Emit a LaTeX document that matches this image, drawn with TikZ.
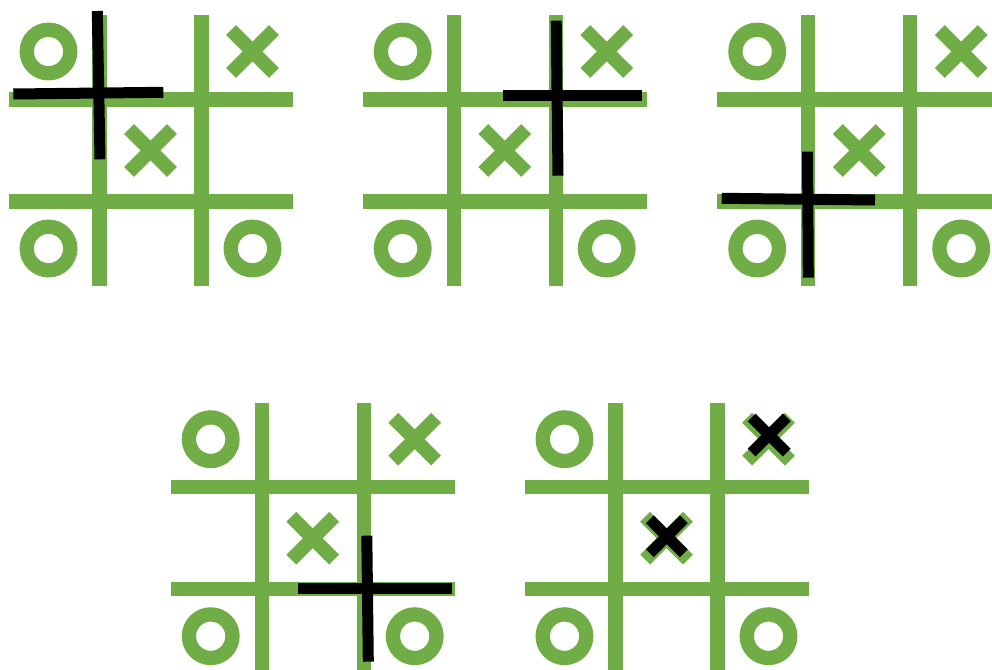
\documentclass[tikz,border=0pt]{standalone}
\definecolor{tgreen}{HTML}{70AD47}
\tikzset{
  gridline/.style={draw=tgreen, line width=14.3pt},
  ring/.style={draw=tgreen, line width=14.3pt},
  xmark/.style={draw=tgreen, line width=14pt},
  blackline/.style={draw=black, line width=11pt},
  blackx/.style={draw=black, line width=11pt}
}
\newcommand\tttboard{%
  \draw[gridline] (0,-84) -- (0,186);
  \draw[gridline] (102,-84) -- (102,186);
  \draw[gridline] (-91,0) -- (193,0);
  \draw[gridline] (-91,102) -- (193,102);
  \draw[ring] (-51,-48) circle[radius=21.8pt];
  \draw[ring] (-51,149) circle[radius=21.8pt];
  \draw[ring] (153,149) circle[radius=21.8pt];
  \draw[xmark] (131.6,-69.4) -- (174.4,-26.6);
  \draw[xmark] (131.6,-26.6) -- (174.4,-69.4);
  \draw[xmark] (29.6,29.6) -- (72.4,72.4);
  \draw[xmark] (29.6,72.4) -- (72.4,29.6);
}
\begin{document}
\begin{tikzpicture}[x=1pt,y=-1pt]
\useasboundingbox (0,0) rectangle (992,669);
\clip (0,0) rectangle (992,669);
% board 1
\begin{scope}[shift={(99.5,99.5)}]\tttboard\end{scope}
\coordinate (b1t) at (97.3,11); \coordinate (b1b) at (100,159.3);
\coordinate (b1l) at (13.3,94); \coordinate (b1r) at (163.3,92.3);
\draw[blackline] (b1t) -- (b1b);
\draw[blackline] (b1l) -- (b1r);
% board 2
\begin{scope}[shift={(453.7,99.5)}]\tttboard\end{scope}
\coordinate (b2t) at (556.2,20.7); \coordinate (b2b) at (558,175.7);
\coordinate (b2l) at (502.7,95); \coordinate (b2r) at (641.7,95);
\draw[blackline] (b2t) -- (b2b);
\draw[blackline] (b2l) -- (b2r);
% board 3
\begin{scope}[shift={(808.2,99.5)}]\tttboard\end{scope}
\coordinate (b3t) at (807.5,151.7); \coordinate (b3b) at (808.3,277.7);
\coordinate (b3l) at (721.7,198.3); \coordinate (b3r) at (875,200);
\draw[blackline] (b3t) -- (b3b);
\draw[blackline] (b3l) -- (b3r);
% board 4
\begin{scope}[shift={(261.7,487.2)}]\tttboard\end{scope}
\coordinate (b4t) at (366.8,535.7); \coordinate (b4b) at (368.3,661.7);
\coordinate (b4l) at (298.3,588.8); \coordinate (b4r) at (452.3,588.8);
\draw[blackline] (b4t) -- (b4b);
\draw[blackline] (b4l) -- (b4r);
% board 5
\begin{scope}[shift={(615.5,487.2)}]\tttboard\end{scope}
\draw[blackx] (751.6,417.4) -- (786.8,452.6);
\draw[blackx] (751.6,452.6) -- (786.8,417.4);
\draw[blackx] (649.8,519.3) -- (683.8,553.3);
\draw[blackx] (649.8,553.3) -- (683.8,519.3);
\end{tikzpicture}
\end{document}
